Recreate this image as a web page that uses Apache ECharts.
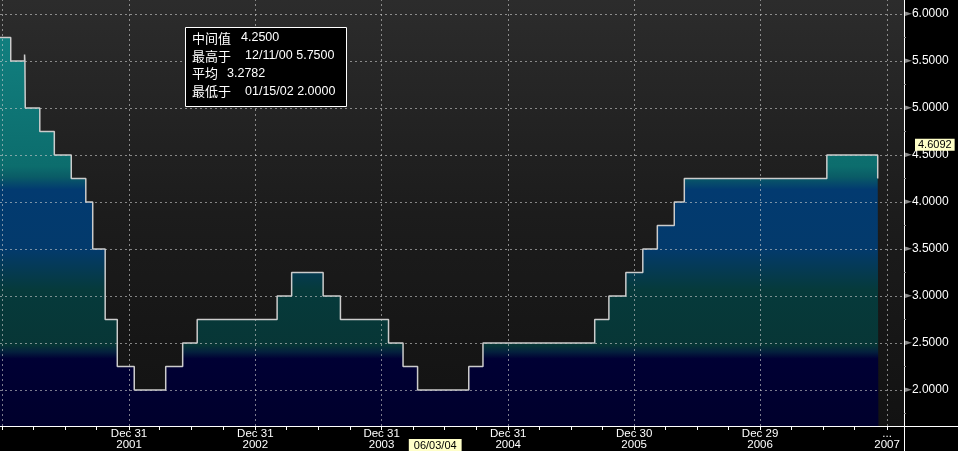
<!DOCTYPE html>
<html><head><meta charset="utf-8">
<script src="https://cdn.jsdelivr.net/npm/echarts@6/dist/echarts.min.js"></script>
<style>html,body{margin:0;padding:0;background:#000;overflow:hidden}#c{width:958px;height:451px;}</style>
</head><body><div id="c"></div>
<script>
// ---- data ----
const rateDates = ['2000-12-11','2001-01-23','2001-03-04','2001-03-05','2001-03-06','2001-04-17','2001-05-29','2001-07-17','2001-08-28','2001-09-17','2001-10-23','2001-11-27','2002-01-15','2002-04-16','2002-06-04','2002-07-16','2003-03-04','2003-04-15','2003-07-15','2003-09-03','2004-01-20','2004-03-02','2004-04-13','2004-09-08','2004-10-19','2005-09-07','2005-10-18','2005-12-06','2006-01-24','2006-03-07','2006-04-25','2006-05-24','2007-07-10','2007-12-04','2007-12-06'];
const rateValues = [5.75,5.5,5.57,5.5,5.0,4.75,4.5,4.25,4.0,3.5,2.75,2.25,2.0,2.25,2.5,2.75,3.0,3.25,3.0,2.75,2.5,2.25,2.0,2.25,2.5,2.75,3.0,3.25,3.5,3.75,4.0,4.25,4.5,4.25,4.25];
const xLabelDates = ['2001-12-31','2002-12-31','2003-12-31','2004-12-31','2005-12-30','2006-12-29','2007-12-31'];
const xLabelTexts = ['Dec 31\n2001','Dec 31\n2002','Dec 31\n2003','Dec 31\n2004','Dec 30\n2005','Dec 29\n2006','...\n2007'];
const xGridDates = ['2000-12-29','2001-12-31','2002-12-31','2003-12-31','2004-12-31','2005-12-30','2006-12-29','2007-12-31'];
const xTickDates = ['2000-12-29','2001-03-30','2001-06-29','2001-09-28','2001-12-31','2002-03-29','2002-06-28','2002-09-30','2002-12-31','2003-03-31','2003-06-30','2003-09-30','2003-12-31','2004-03-31','2004-06-30','2004-09-30','2004-12-31','2005-03-31','2005-06-30','2005-09-30','2005-12-30','2006-03-31','2006-06-30','2006-09-29','2006-12-29','2007-03-30','2007-06-29','2007-09-28','2007-12-31'];
const yMajorTicks = [2.0,2.5,3.0,3.5,4.0,4.5,5.0,5.5,6.0];
const yMinorTicks = [1.75,2.25,2.75,3.25,3.75,4.25,4.75,5.25,5.75];
const xRange = ['2000-12-23','2008-02-18'];
const yRange = [1.617,6.149];
const cursorDate = '2004-06-03';
const cursorValue = 4.6092;
const statLabels = ['中间值','最高于','平均','最低于'];
const statValues = ['4.2500','12/11/00 5.7500','3.2782','01/15/02 2.0000'];

// ---- chart ----
const t = s => echarts.time.parse(s).getTime();
const pad = n => (n < 10 ? '0' : '') + n;
const fmtDate = v => { const d = new Date(v); return pad(d.getMonth()+1) + '/' + pad(d.getDate()) + '/' + pad(d.getFullYear() % 100); };
const DAY = 86400000;

const chart = echarts.init(document.getElementById('c'), null, {renderer:'canvas'});
const seriesData = rateDates.map((d,i) => [t(d), rateValues[i]]);

const areaGrad = new echarts.graphic.LinearGradient(0, 0, 0, 426, [
  {offset:0.00, color:'#138484'},
  {offset:0.39, color:'#0c6d6d'},
  {offset:0.415, color:'#0a5c66'},
  {offset:0.445, color:'#023a70'},
  {offset:0.585, color:'#033a6c'},
  {offset:0.68, color:'#063a3b'},
  {offset:0.81, color:'#073636'},
  {offset:0.826, color:'#04203d'},
  {offset:0.842, color:'#000034'},
  {offset:1.00, color:'#00002c'}
], true);

const gridLine = {type:[2,3], color:'rgba(205,205,205,0.6)', width:1};

const option = {
  animation:false,
  backgroundColor:'#000',
  grid:{left:0, right:54, top:0, bottom:25, show:true, borderWidth:0, containLabel:false, outerBoundsMode:'none',
    backgroundColor: new echarts.graphic.LinearGradient(0,0,0,1,[
      {offset:0, color:'#2c2c2c'},{offset:0.5, color:'#1c1c1c'},{offset:1, color:'#121212'}])},
  xAxis:{
    type:'value', position:'bottom', min:t(xRange[0]), max:t(xRange[1]), scale:true,
    axisLine:{show:true, onZero:false, lineStyle:{color:'#ffffff', width:1}},
    axisTick:{show:true, customValues:xTickDates.map(t), length:4, lineStyle:{color:'#ffffff'}},
    axisLabel:{show:true, customValues:xLabelDates.map(t), color:'#ffffff', fontSize:11.5, lineHeight:11,
      fontFamily:'Liberation Sans', margin:2,
      formatter:(v)=>{ const i = xLabelDates.findIndex(d => Math.abs(t(d)-v) < DAY); return i >= 0 ? xLabelTexts[i] : ''; }},
    splitLine:{show:false},
    axisPointer:{show:true, status:'show', value:t(cursorDate), snap:false, triggerTooltip:false, type:'line',
      lineStyle:{opacity:0}, handle:{show:false},
      label:{show:true, formatter:(p)=>fmtDate(p.value), backgroundColor:'#ffffc8', color:'#000', fontSize:11,
        fontFamily:'Liberation Sans', padding:[1,5,0,5], margin:13, borderRadius:0, shadowBlur:0}}
  },
  yAxis:{
    type:'value', position:'right', min:yRange[0], max:yRange[1], scale:true,
    axisLine:{show:true, onZero:false, lineStyle:{color:'#ffffff', width:1}},
    axisTick:{show:true, customValues:yMinorTicks, length:2, lineStyle:{color:'#8a8a8a'}},
    axisLabel:{show:true, customValues:yMajorTicks, margin:1,
      formatter:(v)=>'{a|►}{v|' + v.toFixed(4) + '}',
      rich:{a:{fontSize:9, color:'#8c8c8c', fontFamily:'DejaVu Sans'}, v:{fontSize:12, color:'#ffffff', fontFamily:'Liberation Sans'}}},
    splitLine:{show:false},
    axisPointer:{show:true, status:'show', value:cursorValue, snap:false, triggerTooltip:false, type:'line',
      lineStyle:{opacity:0}, handle:{show:false},
      label:{show:true, formatter:(p)=>Number(p.value).toFixed(4), backgroundColor:'#ffffc8', color:'#000', fontSize:11,
        fontFamily:'Liberation Sans', padding:[1,3,0,3], margin:11, borderRadius:0, shadowBlur:0}}
  },
  series:[{
    type:'line', step:'end', data:seriesData, showSymbol:false, symbol:'none', clip:true,
    lineStyle:{color:'#cccccc', width:1.5},
    areaStyle:{color:areaGrad, opacity:1, origin:'start'},
    markLine:{silent:true, symbol:['none','none'], label:{show:false}, lineStyle:gridLine, animation:false,
      emphasis:{disabled:true},
      data:[...yMajorTicks.map(v=>({yAxis:v})), ...xGridDates.map(d=>({xAxis:t(d)}))]}
  }],
  graphic:[
    {type:'line', z:50, shape:{x1:904, y1:426.5, x2:958, y2:426.5}, style:{stroke:'#fff', lineWidth:1}},
    {type:'line', z:50, shape:{x1:904.5, y1:426, x2:904.5, y2:451}, style:{stroke:'#fff', lineWidth:1}},
    {type:'rect', z:100, shape:{x:185.5, y:27.5, width:161, height:79}, style:{fill:'#000', stroke:'#fff', lineWidth:1}},
    ...statLabels.map((s,i)=>({type:'text', z:101, x:192, y:38 + i*17.7,
      style:{text:s, fill:'#fff', fontSize:13, fontFamily:'Noto Sans CJK SC', verticalAlign:'middle'}})),
    ...statValues.map((s,i)=>({type:'text', z:101, x:[241,245,227,245][i], y:38 + i*17.7,
      style:{text:s, fill:'#fff', fontSize:12.5, fontFamily:'Liberation Sans', verticalAlign:'middle'}}))
  ]
};
chart.setOption(option);
</script>
</body></html>
